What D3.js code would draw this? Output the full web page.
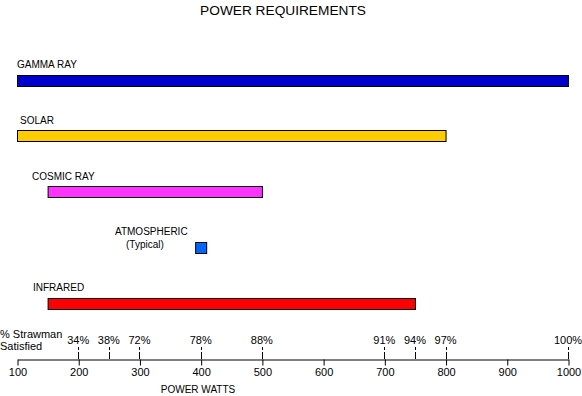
<!DOCTYPE html>
<html>
<head>
<meta charset="utf-8">
<script src="https://cdn.jsdelivr.net/npm/d3@7"></script>
<style>
  body { margin: 0; background: #fff; }
  text { font-family: "Liberation Sans", Arial, sans-serif; font-size: 11px; fill: #000; }
</style>
</head>
<body>
<svg id="chart" width="582" height="396"></svg>
<script>
// --- data ---
const categories = ["GAMMA RAY", "SOLAR", "COSMIC RAY", "ATMOSPHERIC", "INFRARED"];
const startWatts = [100, 100, 150, 391, 150];
const endWatts   = [1000, 800, 500, 409, 750];
const barColors  = ["#0000cc", "#ffcc00", "#ff33ff", "#0066ff", "#ff0000"];
const subLabels  = ["", "", "", "(Typical)", ""];

const wattTicks = [100, 200, 300, 400, 500, 600, 700, 800, 900, 1000];
const pctWatts  = [200, 250, 300, 400, 500, 700, 750, 800, 1000];
const pctLabels = ["34%", "38%", "72%", "78%", "88%", "91%", "94%", "97%", "100%"];

// label layout (pixels from the left edge)
const labelX = [17, 20, 32, 115, 33];

const svg = d3.select("#chart");
const axisY = 359;

const x = d3.scaleLinear().domain([100, 1000]).range([17, 568]);
const y = d3.scalePoint().domain(categories).range([80, 303]);
const barH = 11;

// title
svg.append("text")
    .attr("x", 283).attr("y", 15)
    .attr("text-anchor", "middle")
    .style("font-size", "13.7px")
    .text("POWER REQUIREMENTS");

// bars
svg.selectAll("rect.bar").data(categories).join("rect")
    .attr("class", "bar")
    .attr("x", (d, i) => x(startWatts[i]) + 0.5)
    .attr("y", d => Math.round(y(d) - barH / 2) + 0.5)
    .attr("width", (d, i) => x(endWatts[i]) - x(startWatts[i]))
    .attr("height", barH)
    .attr("fill", (d, i) => barColors[i])
    .attr("stroke", "#000")
    .attr("stroke-width", 1);

// category labels
svg.selectAll("text.cat").data(categories).join("text")
    .attr("class", "cat")
    .attr("x", (d, i) => labelX[i])
    .attr("y", d => Math.round(y(d)) - 12)
    .style("font-size", "10px")
    .text(d => d);

svg.selectAll("text.sub").data(categories.filter((d, i) => subLabels[i])).join("text")
    .attr("class", "sub")
    .attr("x", d => labelX[categories.indexOf(d)] + 11)
    .attr("y", d => Math.round(y(d)) + 1)
    .style("font-size", "10px")
    .text(d => subLabels[categories.indexOf(d)]);

// bottom axis
const axis = svg.append("g")
    .attr("transform", `translate(0.5,${axisY + 0.5})`)
    .call(d3.axisBottom(x).tickValues(wattTicks).tickFormat(d3.format("d"))
        .tickSize(6).tickSizeOuter(0).tickPadding(3));
axis.select(".domain").attr("stroke", "#000");
axis.selectAll(".tick line").attr("stroke", "#000");
axis.selectAll(".tick text")
    .style("font-family", "\"Liberation Sans\", Arial, sans-serif")
    .style("font-size", "11px")
    .attr("fill", "#000");

// percent-satisfied markers above the axis
const pct = svg.append("g");
pct.selectAll("line").data(pctWatts).join("line")
    .attr("x1", d => Math.round(x(d)) + 0.5).attr("x2", d => Math.round(x(d)) + 0.5)
    .attr("y1", axisY - 12).attr("y2", axisY)
    .attr("stroke", "#000")
    .attr("stroke-dasharray", "3,2,7");
pct.selectAll("text").data(pctWatts).join("text")
    .attr("x", d => x(d))
    .attr("y", axisY - 15)
    .attr("text-anchor", "middle")
    .text((d, i) => pctLabels[i]);

svg.append("text").attr("x", 0).attr("y", 338).text("% Strawman");
svg.append("text").attr("x", 0).attr("y", 350).text("Satisfied");

// axis title
svg.append("text")
    .attr("x", 198).attr("y", 393)
    .attr("text-anchor", "middle")
    .style("font-size", "10px")
    .text("POWER WATTS");
</script>
</body>
</html>
